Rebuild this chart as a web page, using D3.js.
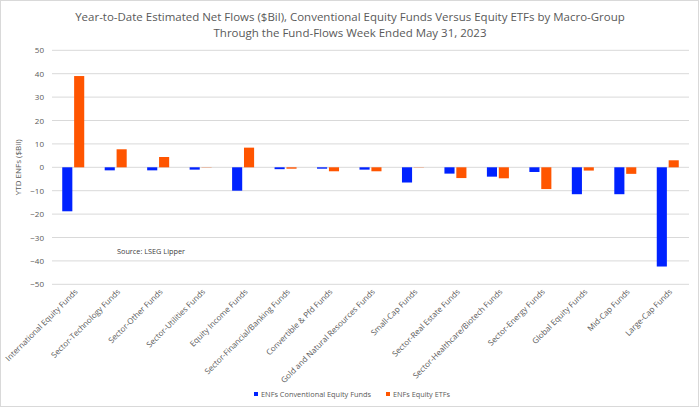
<!DOCTYPE html>
<html><head><meta charset="utf-8">
<script src="https://cdn.jsdelivr.net/npm/d3@7"></script>
<style>body{margin:0;background:#fff}svg{display:block;font-family:"Open Sans",sans-serif}</style>
</head><body><svg id="c" width="700" height="408"></svg>
<script>
const categories = ["International Equity Funds","Sector-Technology Funds","Sector-Other Funds","Sector-Utilities Funds","Equity Income Funds","Sector-Financial/Banking Funds","Convertible & Pfd Funds","Gold and Natural Resources Funds","Small-Cap Funds","Sector-Real Estate Funds","Sector-Healthcare/Biotech Funds","Sector-Energy Funds","Global Equity Funds","Mid-Cap Funds","Large-Cap Funds"];
const conventional = [-18.8,-1.3,-1.3,-1.0,-10.0,-0.8,-0.6,-1.0,-6.5,-2.7,-4.0,-2.0,-11.5,-11.5,-42.4];
const etfs = [39.0,7.7,4.4,0.1,8.4,-0.6,-1.7,-1.7,-0.1,-4.6,-4.7,-9.3,-1.4,-2.8,3.0];
const yTicks = [50,40,30,20,10,0,-10,-20,-30,-40,-50];
const seriesNames = ["ENFs Conventional Equity Funds","ENFs Equity ETFs"];
const colors = ["#0022ff","#ff5500"];

const svg = d3.select("#c");
svg.append("rect").attr("x",0.5).attr("y",0.5).attr("width",698).attr("height",406).attr("fill","#fff").attr("stroke","#d9d9d9");

function fit(sel, w){ const n=sel.node(); const fs=parseFloat(n.style.fontSize); const l=n.getComputedTextLength(); sel.style("font-size",(fs*w/l).toFixed(2)+"px"); }

const L=52,R=689,T=50.3,B=284.3;
const x = d3.scaleBand().domain(categories).range([L,R]);
const y = d3.scaleLinear().domain([-50,50]).range([B,T]);
const sub = d3.scaleBand().domain([0,1]).range([-11,11]).paddingInner(0.15);

svg.append("g").selectAll("line").data(yTicks).join("line")
  .attr("x1",L).attr("x2",R).attr("y1",d=>y(d)).attr("y2",d=>y(d))
  .attr("stroke","#d9d9d9").attr("stroke-width",1);

const ya = svg.append("g").attr("transform",`translate(${L-8},0)`)
  .call(d3.axisLeft(y).tickValues(yTicks).tickSize(0).tickPadding(0));
ya.select(".domain").remove();
ya.selectAll("text").attr("fill","#595959").style("font-size","8px").style("font-family","'Open Sans',sans-serif");

svg.append("text").attr("transform",`translate(21,${(T+B)/2}) rotate(-90)`)
  .attr("text-anchor","middle").attr("fill","#595959").style("font-size","8px").text("YTD ENFs ($Bil)");

const data = [conventional, etfs];
data.forEach((vals,si)=>{
  svg.append("g").selectAll("rect").data(vals).join("rect")
    .attr("x",(d,i)=>x(categories[i])+x.bandwidth()/2+sub(si))
    .attr("width",sub.bandwidth())
    .attr("y",d=>y(Math.max(0,d)))
    .attr("height",d=>Math.abs(y(d)-y(0)))
    .attr("fill",colors[si]);
});

const xa = svg.append("g").attr("transform",`translate(0,${B+4})`)
  .call(d3.axisBottom(x).tickSize(0).tickPadding(0));
xa.select(".domain").remove();
xa.selectAll("text").attr("fill","#595959").style("font-size","8px").style("font-family","'Open Sans',sans-serif")
  .attr("text-anchor","end").attr("dy","0.35em").attr("transform","translate(3,2) rotate(-45)");

const t1 = svg.append("text").attr("x",350).attr("y",20.5).attr("text-anchor","middle").attr("fill","#595959")
  .style("font-size","12px").text("Year-to-Date Estimated Net Flows ($Bil), Conventional Equity Funds Versus Equity ETFs by Macro-Group");
fit(t1,550);
const t2 = svg.append("text").attr("x",350).attr("y",37).attr("text-anchor","middle").attr("fill","#595959")
  .style("font-size",t1.style("font-size")).text("Through the Fund-Flows Week Ended May 31, 2023");

const src = svg.append("text").attr("x",117).attr("y",254).attr("fill","#404040").style("font-size","8px").text("Source: LSEG Lipper");
fit(src,68);

const lg = svg.append("g");
const legX=[254,386];
const legW=[110,57];
seriesNames.forEach((n,i)=>{
  lg.append("rect").attr("x",legX[i]).attr("y",392).attr("width",4).attr("height",4).attr("fill",colors[i]);
  const t = lg.append("text").attr("x",legX[i]+7).attr("y",397).attr("fill","#595959").style("font-size","9px").text(n);
  fit(t,legW[i]);
});
</script></body></html>
